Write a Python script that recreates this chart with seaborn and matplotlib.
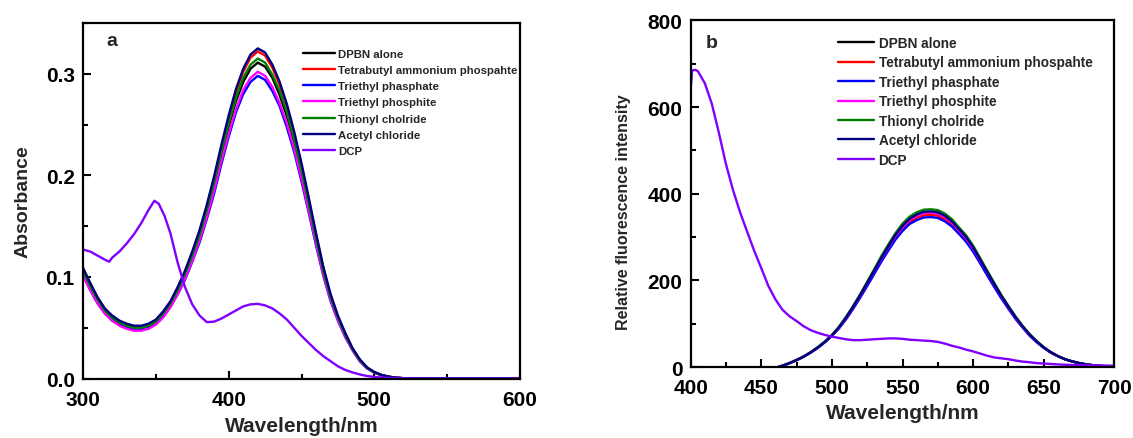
import matplotlib
matplotlib.use("Agg")
import matplotlib.pyplot as plt
import seaborn as sns
from matplotlib.ticker import MultipleLocator, FormatStrFormatter

# ---------------- data: panel a (absorbance) ----------------
wl_abs = [300, 305, 310, 315, 320, 325, 330, 335, 340, 345,
          350, 355, 360, 365, 370, 375, 380, 385, 390, 395,
          400, 405, 410, 415, 420, 425, 430, 435, 440, 445,
          450, 455, 460, 465, 470, 475, 480, 485, 490, 495,
          500, 505, 510, 515, 520, 540, 560, 580, 600]

abs_dpbn = [.106, .091, .077, .066, .059, .055, .052, .050, .050, .052,
            .056, .063, .073, .086, .101, .120, .140, .164, .190, .220,
            .248, .273, .292, .305, .311, .307, .296, .279, .258, .232,
            .203, .170, .137, .105, .079, .059, .043, .029, .018, .0105,
            .006, .0033, .0017, .0007, .0003, 0, 0, 0, 0]
abs_tbap = [.108, .093, .079, .068, .061, .056, .053, .051, .051, .053,
            .057, .065, .075, .089, .105, .124, .145, .169, .197, .227,
            .256, .282, .302, .316, .322, .318, .306, .289, .267, .240,
            .209, .175, .141, .108, .081, .060, .044, .029, .018, .0105,
            .006, .0033, .0017, .0007, .0003, 0, 0, 0, 0]
abs_tepa = [.102, .087, .074, .064, .057, .053, .050, .048, .048, .050,
            .054, .061, .071, .083, .097, .115, .134, .157, .182, .211,
            .238, .262, .280, .292, .298, .294, .283, .268, .247, .223,
            .194, .163, .131, .101, .076, .057, .041, .028, .017, .010,
            .0058, .0032, .0016, .0007, .0003, 0, 0, 0, 0]
abs_tepi = [.101, .087, .074, .064, .057, .052, .049, .047, .047, .049,
            .053, .060, .070, .083, .098, .116, .136, .159, .185, .214,
            .241, .265, .284, .296, .302, .298, .287, .271, .251, .226,
            .197, .165, .133, .102, .077, .057, .041, .028, .017, .010,
            .0058, .0032, .0016, .0007, .0003, 0, 0, 0, 0]
abs_socl = [.106, .091, .078, .067, .060, .055, .052, .050, .050, .052,
            .056, .064, .074, .087, .103, .121, .141, .166, .193, .223,
            .251, .276, .296, .309, .315, .311, .299, .283, .262, .235,
            .205, .172, .138, .106, .080, .060, .043, .029, .018, .0105,
            .006, .0033, .0017, .0007, .0003, 0, 0, 0, 0]
abs_acet = [.109, .094, .080, .069, .062, .057, .054, .052, .052, .054,
            .058, .066, .076, .090, .106, .125, .146, .171, .199, .230,
            .259, .285, .305, .319, .325, .321, .309, .292, .270, .243,
            .212, .178, .143, .110, .083, .062, .045, .030, .019, .011,
            .0065, .0035, .0018, .0008, .0003, 0, 0, 0, 0]

wl_abs_dcp = [300, 305, 310, 315, 318, 320, 325, 330, 335, 340,
              345, 349, 352, 356, 360, 365, 370, 375, 380, 385,
              390, 395, 400, 405, 410, 415, 420, 425, 430, 435,
              440, 445, 450, 455, 460, 465, 470, 475, 480, 485,
              490, 495, 500, 510, 520, 540, 560, 580, 600]
abs_dcp = [.127, .125, .121, .117, .115, .119, .125, .133, .142, .153,
           .166, .175, .172, .160, .143, .114, .090, .073, .062, .0555,
           .056, .059, .063, .067, .071, .073, .0735, .072, .069, .064,
           .058, .050, .042, .035, .028, .022, .017, .012, .0085, .006,
           .004, .0025, .0015, .0005, .0002, 0, 0, 0, 0]

# ---------------- data: panel b (fluorescence) ----------------
wl_fl = [462, 465, 470, 475, 480, 485, 490, 495, 500, 505,
         510, 515, 520, 525, 530, 535, 540, 545, 550, 555,
         560, 565, 570, 575, 580, 585, 590, 595, 600, 605,
         610, 615, 620, 625, 630, 635, 640, 645, 650, 655,
         660, 665, 670, 675, 680, 685, 690, 695, 700]

fl_dpbn = [0, 3, 9, 16, 24, 34, 45, 58, 73, 91,
           113, 138, 165, 193, 222, 250, 277, 303, 324, 340,
           350, 356, 357, 355, 347, 334, 316, 298, 274, 247,
           218, 190, 163, 138, 114, 93, 74, 58, 45, 34,
           25, 18, 13, 9, 6, 4, 2.5, 1.5, 1]
fl_tbap = [0, 3, 9, 16, 24, 34, 45, 58, 72, 90,
           112, 136, 162, 190, 218, 246, 273, 298, 319, 334,
           344, 350, 351, 349, 341, 329, 311, 293, 270, 243,
           214, 187, 160, 136, 112, 92, 73, 58, 45, 34,
           25, 18, 13, 9, 6, 4, 2.5, 1.5, 1]
fl_tepa = [0, 3, 9, 16, 24, 33, 44, 57, 72, 89,
           110, 134, 160, 187, 215, 243, 269, 294, 314, 330,
           339, 345, 346, 344, 336, 324, 307, 289, 266, 239,
           211, 184, 158, 134, 111, 91, 72, 57, 44, 33,
           25, 18, 13, 9, 6, 4, 2.5, 1.5, 1]
fl_tepi = [0, 3, 9, 16, 24, 34, 45, 58, 73, 91,
           113, 138, 165, 193, 222, 250, 277, 302, 323, 339,
           349, 355, 356, 354, 346, 333, 315, 297, 273, 246,
           218, 190, 163, 138, 114, 93, 74, 58, 45, 34,
           25, 18, 13, 9, 6, 4, 2.5, 1.5, 1]
fl_socl = [0, 3, 9, 16, 24, 34, 46, 59, 74, 93,
           116, 141, 168, 197, 226, 256, 283, 309, 331, 347,
           357, 363, 364, 362, 354, 341, 322, 304, 280, 251,
           222, 194, 166, 141, 117, 95, 76, 60, 46, 34,
           25, 18, 13, 9, 6, 4, 2.5, 1.5, 1]
fl_acet = [0, 3, 9, 16, 24, 34, 45, 58, 73, 92,
           114, 139, 166, 194, 223, 252, 279, 305, 326, 342,
           352, 358, 359, 357, 349, 336, 318, 300, 276, 248,
           219, 191, 164, 139, 115, 94, 75, 59, 45, 34,
           25, 18, 13, 9, 6, 4, 2.5, 1.5, 1]

wl_fl_dcp = [400, 401, 403, 405, 410, 415, 420, 425, 430, 435,
             440, 445, 450, 455, 460, 465, 470, 475, 480, 485,
             490, 495, 500, 505, 510, 515, 520, 525, 530, 535,
             540, 545, 550, 555, 560, 565, 570, 575, 580, 585,
             590, 595, 600, 605, 610, 615, 620, 625, 630, 635,
             640, 645, 650, 660, 670, 680, 690, 700]
fl_dcp = [640, 684, 686, 683, 655, 607, 540, 468, 408, 357,
          312, 268, 228, 187, 156, 132, 117, 106, 94, 85,
          79, 74, 70, 67, 64, 62, 62, 63, 64, 65,
          66, 66, 65, 63, 62, 61, 60, 58, 54, 49,
          45, 40, 36, 31, 26, 22, 20, 18, 15, 12.5,
          11, 9, 8, 6, 4.5, 4, 3.5, 3]

series_labels = ["DPBN alone", "Tetrabutyl ammonium phospahte", "Triethyl phasphate",
                 "Triethyl phosphite", "Thionyl cholride", "Acetyl chloride", "DCP"]
series_colors = ["#000000", "#ff0000", "#0000ff", "#ff00ff", "#008000", "#000080", "#8000ff"]

# ---------------- style ----------------
sns.set_style("ticks")
plt.rcParams["font.family"] = ["Liberation Sans", "DejaVu Sans"]
plt.rcParams["font.weight"] = "bold"
plt.rcParams["axes.labelweight"] = "bold"

fig = plt.figure(figsize=(11.33, 4.39), dpi=100)
ax1 = fig.add_axes([0.07326, 0.1355, 0.3857, 0.8098])
ax2 = fig.add_axes([0.6096, 0.1617, 0.374, 0.7897])

abs_sets = [abs_dpbn, abs_tbap, abs_tepa, abs_tepi, abs_socl, abs_acet]
for vals, lab, col in zip(abs_sets, series_labels[:6], series_colors[:6]):
    sns.lineplot(x=wl_abs, y=vals, ax=ax1, color=col, lw=1.7, label=lab, estimator=None)
sns.lineplot(x=wl_abs_dcp, y=abs_dcp, ax=ax1, color=series_colors[6], lw=1.7,
             label=series_labels[6], estimator=None)

fl_sets = [fl_dpbn, fl_tbap, fl_tepa, fl_tepi, fl_socl, fl_acet]
for vals, lab, col in zip(fl_sets, series_labels[:6], series_colors[:6]):
    sns.lineplot(x=wl_fl, y=vals, ax=ax2, color=col, lw=1.7, label=lab, estimator=None)
sns.lineplot(x=wl_fl_dcp, y=fl_dcp, ax=ax2, color=series_colors[6], lw=1.7,
             label=series_labels[6], estimator=None)

# ---------------- axes a ----------------
ax1.set_xlim(300, 600)
ax1.set_ylim(0, 0.35)
ax1.xaxis.set_major_locator(MultipleLocator(100))
ax1.xaxis.set_minor_locator(MultipleLocator(50))
ax1.yaxis.set_major_locator(MultipleLocator(0.1))
ax1.yaxis.set_minor_locator(MultipleLocator(0.05))
ax1.yaxis.set_major_formatter(FormatStrFormatter("%.1f"))
ax1.set_xlabel("Wavelength/nm", fontsize=15, fontweight="bold", labelpad=5)
ax1.set_ylabel("Absorbance", fontsize=14, fontweight="bold", labelpad=10)
ax1.text(0.066, 0.95, "a", transform=ax1.transAxes, fontsize=14, fontweight="bold",
         ha="center", va="center")
ax1.legend(loc="upper left", bbox_to_anchor=(0.503, 0.928), frameon=False,
           handlelength=2.8, handletextpad=0.3, labelspacing=0.55, borderpad=0,
           borderaxespad=0, prop={"weight": "bold", "size": 8.2})

# ---------------- axes b ----------------
ax2.set_xlim(400, 700)
ax2.set_ylim(0, 800)
ax2.xaxis.set_major_locator(MultipleLocator(50))
ax2.xaxis.set_minor_locator(MultipleLocator(25))
ax2.yaxis.set_major_locator(MultipleLocator(200))
ax2.yaxis.set_minor_locator(MultipleLocator(100))
ax2.set_xlabel("Wavelength/nm", fontsize=15, fontweight="bold", labelpad=4)
ax2.set_ylabel("Relative fluorescence intensity", fontsize=11.5, fontweight="bold")
ax2.yaxis.set_label_coords(-0.142, 0.45)
ax2.text(0.049, 0.937, "b", transform=ax2.transAxes, fontsize=14, fontweight="bold",
         ha="center", va="center")
ax2.legend(loc="upper left", bbox_to_anchor=(0.347, 0.955), frameon=False,
           handlelength=2.7, handletextpad=0.3, labelspacing=0.4, borderpad=0,
           borderaxespad=0, prop={"weight": "bold", "size": 9.8})

for ax in (ax1, ax2):
    for sp in ax.spines.values():
        sp.set_visible(True)
        sp.set_linewidth(1.6)
        sp.set_color("black")
    ax.tick_params(which="both", direction="in", width=1.5, colors="black",
                   labelsize=15, top=False, right=False)
    ax.tick_params(which="major", length=6)
    ax.tick_params(which="minor", length=3.5)
    ax.tick_params(axis="x", which="major", pad=8)
    ax.tick_params(axis="y", which="major", pad=6)
    for lbl in ax.get_xticklabels() + ax.get_yticklabels():
        lbl.set_fontweight("bold")

fig.savefig("out.png", dpi=100)
